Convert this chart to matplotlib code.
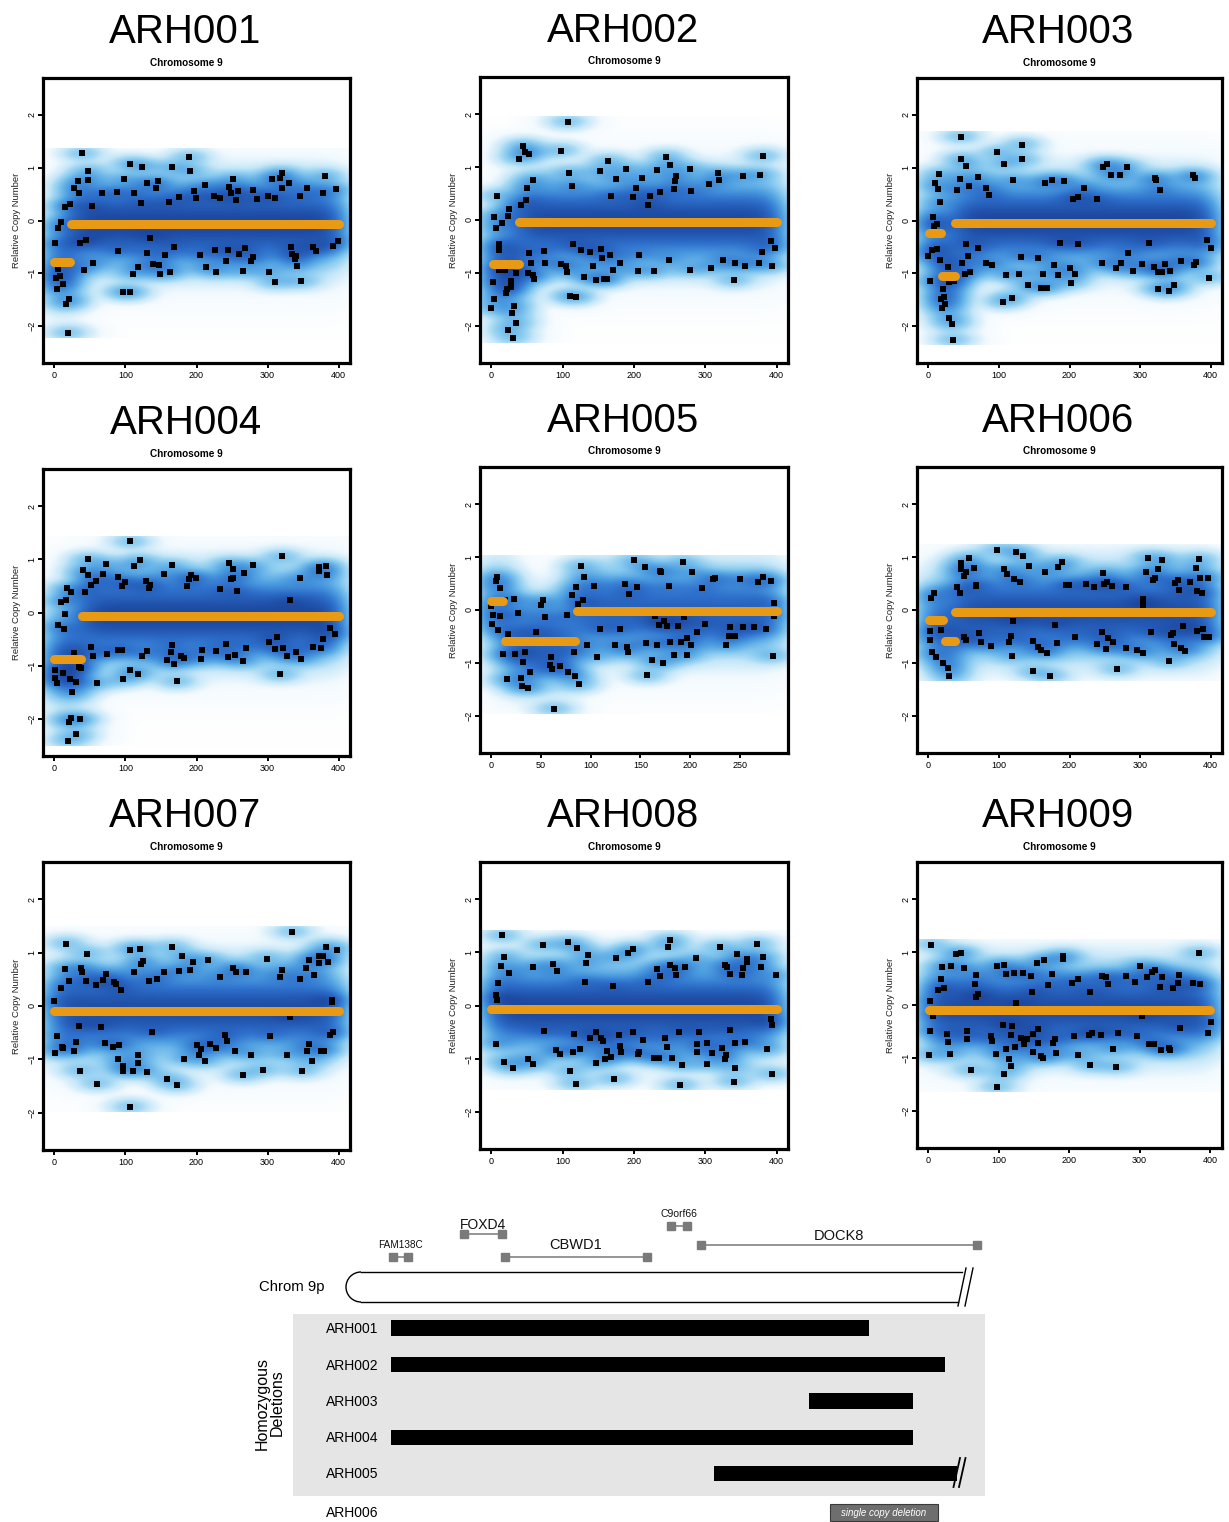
import math
import numpy as np
import matplotlib
matplotlib.use("Agg")
import matplotlib.pyplot as plt
from matplotlib.colors import LinearSegmentedColormap
from matplotlib.patches import Rectangle, Arc

plt.rcParams['font.family'] = ['Liberation Sans', 'DejaVu Sans']

# ---------------------------------------------------------------- data
# plotted (low-density) probes: (probe position, relative copy number)
arh001_points = [(1,-0.43),(2,-1.09),(4,-1.29),(5,-0.15),(5,-0.91),(8,-1.06),(10,-0.02),(12,-1.20),(15,0.25),(17,-1.58),
    (19,-2.13),(21,-1.49),(22,0.32),(27,0.62),(33,0.74),(34,0.52),(36,-0.43),(39,1.27),(41,-0.93),(45,-0.36),(47,0.94),
    (48,0.77),(53,0.27),(55,-0.81),(67,0.52),(88,0.54),(90,-0.57),(98,0.78),(97,-1.36),(106,-1.36),(107,1.08),(110,-1.01),
    (112,0.53),(118,-0.88),(122,0.33),(124,1.02),(130,0.71),(131,-0.62),(135,-0.33),(139,-0.83),(143,0.62),(146,0.74),
    (147,-0.85),(148,-1.01),(155,-0.66),(161,0.35),(163,-0.97),(165,1.01),(168,-0.50),(175,0.45),(190,1.20),(191,0.94),
    (196,0.56),(199,0.42),(205,-0.66),(212,0.67),(213,-0.89),(225,0.47),(226,-0.56),(228,-0.97),(233,0.43),(241,-0.76),
    (245,-0.56),(246,0.64),(248,0.52),(252,0.79),(255,0.38),(258,0.55),(260,-0.63),(266,-0.96),(268,-0.52),(277,-0.76),
    (279,-0.69),(279,0.58),(285,0.41),(301,0.47),(302,-0.97),(306,0.78),(310,0.43),(311,-1.17),(317,0.81),(320,0.62),
    (320,0.90),(330,0.71),(333,-0.50),(335,-0.63),(338,-0.72),(340,-0.68),(342,-0.87),(345,0.46),(347,-1.15),(355,0.62),
    (364,-0.50),(368,-0.57),(378,0.52),(381,0.84),(392,-0.49),(396,0.59),(399,-0.39)]
arh001_seg_start = [0, 24]
arh001_seg_end = [22, 400]
arh001_seg_mean = [-0.79, -0.07]

arh002_points = [(0,-1.67),(2,-1.18),(3,-1.5),(4,0.06),(6,-0.16),(8,0.45),(10,-0.56),(11,-0.45),(11,-0.95),(15,-0.06),
    (19,-0.95),(20,-1.38),(22,-1.3),(23,-2.07),(23,0.07),(25,0.21),(27,-1.16),(28,-1.26),(29,-1.76),(30,-2.23),(32,-1.62),
    (34,-1.0),(35,-1.94),(38,1.16),(41,0.28),(45,1.4),(47,1.29),(49,0.38),(50,0.61),(52,-1.0),(53,1.24),(53,-0.62),
    (55,-0.81),(58,0.76),(58,-1.04),(60,-1.11),(74,-0.59),(75,-0.81),(97,1.31),(97,-0.83),(105,-0.86),(106,-0.98),
    (107,1.85),(109,0.88),(110,-1.44),(113,0.64),(115,-0.46),(118,-1.46),(126,-0.56),(130,-1.07),(138,-0.61),(142,-0.87),
    (146,-1.13),(153,0.92),(154,-0.54),(155,-0.71),(158,-1.12),(162,-1.12),(164,1.11),(167,-0.66),(168,0.45),(171,-0.95),
    (175,0.78),(181,-0.81),(189,0.96),(198,0.44),(203,0.61),(206,-0.97),(207,-0.66),(211,0.79),(220,0.28),(223,0.45),
    (228,-0.97),(232,0.94),(237,0.52),(245,1.19),(249,-0.75),(250,1.04),(256,0.59),(258,0.74),(259,0.83),(278,0.96),
    (278,-0.94),(280,0.54),(305,0.68),(308,-0.9),(318,0.88),(319,0.76),(325,-0.75),(340,-1.14),(341,-0.82),(353,0.83),
    (355,-0.87),(376,-0.82),(377,0.85),(379,-0.61),(381,1.2),(392,-0.4),(394,-0.87),(398,-0.53)]
arh002_seg_start = [2, 39]
arh002_seg_end = [38, 400]
arh002_seg_mean = [-0.84, -0.04]

arh003_points = [(0,-0.67),(2,-1.15),(5,-0.55),(6,0.06),(9,0.71),(8,-0.11),(12,-0.07),(13,-0.54),(14,0.6),(15,0.88),
    (16,-0.74),(17,0.35),(18,-1.48),(20,-1.66),(21,-1.29),(22,-1.44),(24,-1.59),(28,-0.88),(30,-1.17),(30,-1.85),
    (33,-1.97),(35,-2.27),(36,-1.14),(40,0.57),(45,0.79),(46,1.59),(47,1.17),(48,-0.8),(53,1.04),(52,-1.01),(54,-0.44),
    (56,-0.67),(58,0.66),(59,-0.98),(71,-0.53),(71,0.82),(82,0.62),(82,-0.81),(86,0.48),(90,-0.85),(98,1.29),(107,1.07),
    (106,-1.55),(110,-1.03),(118,-1.46),(120,0.76),(128,-1.01),(131,-0.69),(133,1.44),(133,1.16),(141,-1.23),(155,-0.71),
    (159,-1.27),(163,-1.01),(165,0.71),(168,-1.27),(175,0.76),(178,-0.85),(184,-1.04),(187,-0.43),(192,0.75),(200,-0.9),
    (202,-1.18),(205,0.41),(208,-1.01),(212,-0.45),(212,0.45),(221,0.62),(239,0.4),(246,-0.81),(248,1.02),(253,1.07),
    (259,0.87),(266,-0.9),(271,0.87),(273,-0.8),(281,1.02),(283,-0.61),(290,-0.96),(303,-0.82),(313,-0.43),(320,-0.89),
    (321,0.8),(322,0.76),(325,-0.97),(326,-1.29),(328,0.57),(331,-0.97),(335,-0.82),(341,-1.34),(343,-0.96),(348,-1.23),
    (358,-0.76),(375,0.86),(377,-0.84),(378,0.8),(379,-0.78),(395,-0.37),(397,-1.08),(400,-0.52)]
arh003_seg_start = [1, 19, 38]
arh003_seg_end = [18, 38, 400]
arh003_seg_mean = [-0.23, -1.05, -0.04]

arh004_points = [(1,-1.08),(1,-1.24),(4,-1.32),(5,-0.23),(9,0.2),(12,-1.13),(13,-0.31),(15,-0.03),(16,0.24),(18,0.47),
    (19,-2.41),(21,-2.06),(22,-1.26),(23,-1.98),(24,0.38),(25,-1.5),(28,-0.77),(30,-1.31),(31,-2.29),(35,-1.02),
    (36,-2.01),(37,-1.05),(40,0.8),(43,0.38),(47,1.01),(48,0.7),(51,0.51),(52,-0.65),(55,-0.82),(58,0.59),(60,-1.33),
    (69,0.72),(72,0.91),(74,-0.78),(89,0.66),(89,-0.7),(95,-0.7),(95,0.5),(97,-1.26),(99,0.57),(106,-1.09),(107,1.35),
    (112,0.88),(118,-1.15),(120,0.99),(123,-0.82),(129,0.6),(131,-0.73),(133,0.47),(134,0.52),(154,0.72),(159,-0.9),
    (164,-0.75),(165,-0.62),(165,0.89),(168,-0.97),(172,-1.29),(178,-0.82),(182,-0.85),(186,0.5),(190,0.63),(192,0.7),
    (199,0.65),(206,-0.88),(208,-0.7),(228,-0.72),(233,0.45),(242,-0.6),(245,-0.84),(246,0.93),(248,0.63),(251,0.82),
    (252,0.65),(254,-0.8),(257,0.4),(266,-0.92),(267,0.75),(269,-0.66),(280,0.89),(302,-0.55),(310,-0.69),(313,-0.47),
    (318,-1.16),(320,1.06),(322,-0.66),(328,-0.82),(331,0.23),(340,-0.74),(345,0.64),(347,-0.87),(364,-0.64),(372,0.78),
    (373,0.86),(375,-0.67),(378,-0.5),(382,0.88),(383,0.71),(388,-0.3),(395,-0.41)]
arh004_seg_start = [0, 39]
arh004_seg_end = [37, 400]
arh004_seg_mean = [-0.87, -0.06]

arh005_points = [(0,0.08),(1,-0.26),(2,-0.09),(5,0.54),(6,0.63),(7,-0.37),(9,0.42),(9,-0.11),(12,-0.84),(14,0.18),
    (16,-1.31),(17,-0.46),(23,0.21),(24,-0.84),(27,-0.06),(30,-1.29),(31,-1.44),(32,-0.98),(34,-0.8),(37,-1.47),
    (39,-1.18),(45,-0.42),(50,0.09),(52,0.18),(54,-0.14),(59,-1.04),(60,-0.88),(61,-1.12),(63,-1.86),(69,-1.05),
    (76,-0.1),(77,-1.18),(81,0.29),(83,-0.79),(84,-1.25),(85,0.43),(87,0.11),(88,-1.4),(90,0.83),(92,0.18),(93,0.62),
    (96,-0.67),(103,0.45),(106,-0.88),(109,-0.36),(124,-0.67),(129,-0.35),(134,0.5),(136,-0.7),(137,-0.8),(138,0.31),
    (144,0.94),(147,0.44),(155,0.82),(156,-0.62),(157,-1.23),(162,-0.94),(165,-0.12),(167,-0.67),(169,-0.28),(170,0.74),
    (171,0.71),(173,-1.0),(174,-0.21),(177,-0.3),(179,0.45),(180,-0.61),(184,-0.85),(188,-0.3),(191,-0.61),(193,0.91),
    (194,-0.13),(197,-0.85),(197,-0.52),(201,-0.67),(202,0.72),(207,-0.42),(212,0.41),(215,-0.26),(223,0.58),(225,0.6),
    (236,-0.67),(239,-0.5),(240,-0.33),(245,-0.49),(250,0.59),(253,-0.33),(264,-0.33),(268,0.52),(273,0.62),(276,-0.36),
    (281,0.55),(283,-0.86),(284,-0.11),(284,0.14)]
arh005_seg_start = [0, 14, 86]
arh005_seg_end = [12, 84, 287]
arh005_seg_mean = [0.17, -0.59, -0.01]

arh006_points = [(2,-0.56),(3,-0.4),(4,0.23),(5,-0.8),(8,0.33),(11,-0.88),(18,-0.37),(21,-1.01),(28,-1.1),(30,-1.24),
    (40,0.44),(45,0.33),(46,0.77),(47,0.88),(50,0.65),(51,-0.51),(54,0.71),(54,-0.57),(58,0.98),(65,0.8),(67,0.48),
    (68,0.45),(72,-0.44),(74,-0.61),(89,-0.68),(98,1.14),(107,0.77),(112,0.68),(115,-0.61),(117,-0.49),(118,-0.87),
    (120,-0.2),(122,0.58),(124,1.1),(130,0.52),(134,1.02),(143,0.83),(148,-0.59),(148,-1.16),(155,-0.69),(159,-0.76),
    (165,0.71),(168,-0.82),(172,-1.24),(180,-0.28),(184,0.82),(182,-0.63),(190,0.91),(195,0.47),(199,0.47),(208,-0.51),
    (223,0.5),(234,0.44),(239,-0.64),(246,-0.42),(248,0.69),(249,0.5),(251,-0.74),(253,0.52),(255,-0.52),(260,0.45),
    (262,-0.61),(267,-1.11),(280,0.44),(280,-0.72),(295,-0.75),(304,0.2),(304,0.1),(304,-0.82),(308,0.71),(311,0.99),
    (316,-0.41),(318,0.57),(321,0.61),(325,0.78),(331,0.95),(341,-0.96),(344,-0.47),(346,-0.44),(348,-0.65),(350,0.51),
    (353,0.57),(355,0.37),(358,-0.72),(361,-0.3),(364,-0.77),(370,0.52),(379,0.8),(380,-0.4),(381,0.36),(384,0.96),
    (385,0.61),(388,0.33),(389,-0.35),(391,-0.51),(396,0.61),(398,-0.51)]
arh006_seg_start = [1, 23, 38]
arh006_seg_end = [21, 38, 400]
arh006_seg_mean = [-0.18, -0.59, -0.04]

arh007_points = [(0,0.09),(1,-0.88),(3,-0.57),(10,0.33),(11,-0.76),(12,-0.79),(15,0.69),(16,1.16),(20,0.47),(28,-0.85),
    (31,-0.67),(35,-0.38),(36,-1.22),(38,0.71),(39,0.63),(45,0.47),(46,0.98),(58,0.4),(60,-1.46),(65,-0.4),(68,0.48),
    (71,-0.7),(73,0.6),(82,-0.76),(84,0.45),(87,0.41),(89,-1.0),(91,-0.73),(94,0.3),(96,-1.22),(97,-1.13),(106,-1.9),
    (107,1.05),(110,-1.22),(112,0.63),(117,-0.91),(118,-1.06),(120,1.07),(122,0.78),(125,0.84),(131,-1.23),(133,0.46),
    (138,-0.49),(144,0.51),(154,0.63),(159,-1.37),(165,1.1),(172,-1.49),(176,0.66),(179,0.93),(182,-1.0),(191,0.67),
    (195,0.83),(201,-0.74),(203,-0.91),(206,-0.81),(212,-1.04),(216,0.86),(219,-0.72),(227,-0.79),(233,0.54),(240,-0.55),
    (243,-0.65),(251,0.72),(254,-0.85),(255,0.64),(265,-1.3),(269,0.64),(276,-0.92),(294,-1.2),(299,0.89),(303,-0.56),
    (317,0.54),(320,0.67),(328,-0.92),(332,-0.2),(335,1.38),(345,0.5),(348,-1.22),(354,0.72),(356,-0.84),(358,-0.72),
    (358,0.86),(363,-1.03),(365,0.58),(373,0.8),(373,0.93),(375,-0.84),(378,0.93),(379,-0.84),(382,1.11),(385,0.83),
    (388,-0.55),(390,0.11),(391,0.08),(392,-0.49),(398,1.05)]
arh007_seg_start = [0]
arh007_seg_end = [400]
arh007_seg_mean = [-0.09]

arh008_points = [(6,-0.72),(7,0.2),(8,0.1),(9,0.42),(14,0.74),(15,1.32),(18,0.92),(18,-1.06),(24,0.61),(30,-1.17),
    (52,-1.0),(58,0.73),(59,-1.1),(72,1.14),(74,-0.48),(87,0.79),(90,-0.83),(92,0.65),(96,-0.91),(107,1.19),(110,-1.23),
    (115,-0.87),(116,-0.53),(118,-1.47),(120,1.09),(124,-0.81),(131,0.45),(133,0.8),(136,0.95),(138,-0.61),(146,-1.09),
    (147,-0.49),(154,-0.61),(156,-0.67),(159,-1.0),(162,-0.85),(168,-0.97),(170,0.37),(172,-1.38),(175,0.9),(179,-0.56),
    (181,-0.77),(182,-0.87),(191,0.99),(198,1.07),(199,-0.5),(206,-0.92),(207,-0.87),(212,-0.64),(220,0.44),(228,-0.99),
    (232,0.68),(235,-0.99),(237,0.55),(244,-0.61),(246,-0.79),(248,1.11),(250,0.77),(251,1.24),(253,-0.98),(257,0.71),
    (259,0.58),(263,-0.49),(267,-1.12),(265,-1.5),(271,0.73),(287,0.89),(288,-0.87),(289,-0.73),(291,-0.5),(302,-1.11),
    (303,-0.71),(309,-0.9),(320,1.11),(323,-0.8),(327,0.77),(328,-1.01),(329,-0.93),(330,0.73),(334,-0.46),(335,0.6),
    (340,-1.43),(341,-1.18),(342,-0.71),(345,0.97),(352,0.58),(353,0.7),(356,-0.68),(359,0.82),(359,0.87),(373,1.16),
    (378,0.73),(381,0.92),(387,-0.81),(392,-0.26),(393,-0.37),(394,-1.29),(399,0.57)]
arh008_seg_start = [0]
arh008_seg_end = [400]
arh008_seg_mean = [-0.06]

arh009_points = [(1,-0.94),(2,0.07),(3,-0.49),(4,1.14),(7,-0.2),(14,0.28),(18,0.49),(20,0.71),(22,0.33),(27,-0.54),
    (28,-0.7),(31,-0.92),(32,0.74),(39,0.96),(46,0.98),(50,0.69),(55,-0.5),(55,-0.64),(60,-1.23),(66,0.39),(68,0.16),
    (68,0.56),(71,0.21),(89,-0.59),(90,-0.68),(96,-0.92),(97,-1.55),(98,0.74),(106,-0.37),(107,-1.31),(108,0.76),
    (110,0.58),(110,-0.83),(115,-1.02),(118,-0.56),(118,-1.16),(119,-0.4),(121,0.61),(123,-0.8),(125,0.03),(131,-0.63),
    (134,0.61),(136,-0.73),(140,-0.64),(146,0.55),(147,0.25),(148,-0.54),(148,-0.89),(155,0.79),(156,-0.45),(156,-0.71),
    (160,-0.97),(163,-1.01),(165,0.85),(170,0.37),(175,0.58),(177,-0.71),(180,-0.64),(182,-0.91),(191,0.93),(191,0.87),
    (204,0.41),(207,-0.59),(212,0.49),(213,-0.95),(228,-0.56),(229,0.25),(230,-1.14),(232,-0.52),(245,-0.56),(247,0.54),
    (253,0.52),(255,0.4),(262,-0.83),(267,-1.17),(269,-0.53),(281,0.54),(294,0.44),(296,-0.59),(301,0.74),(304,-0.2),
    (311,0.52),(314,-0.73),(318,0.63),(320,-0.73),(322,0.66),(329,0.34),(331,-0.85),(332,0.52),(342,-0.82),(343,-0.85),
    (347,0.33),(354,0.42),(356,0.56),(357,-0.43),(376,0.41),(384,0.98),(386,0.39),(397,-0.53),(401,-0.33)]
arh009_seg_start = [1]
arh009_seg_end = [400]
arh009_seg_mean = [-0.09]

sample_names = ["ARH001", "ARH002", "ARH003", "ARH004", "ARH005",
                "ARH006", "ARH007", "ARH008", "ARH009"]
y_ticks = [-2, -1, 0, 1, 2]
y_tick_labels = ["\u22122", "\u22121", "0", "1", "2"]

# chromosome 9p diagram (relative position along 9p, telomere = 0, break = 100)
gene_names = ["FAM138C", "FOXD4", "CBWD1", "C9orf66", "DOCK8"]
gene_start = [7.7, 19.1, 25.8, 52.7, 57.6]
gene_end = [10.1, 25.3, 48.9, 55.4, 102.4]
del_samples = ["ARH001", "ARH002", "ARH003", "ARH004", "ARH005"]
del_start = [7.3, 7.3, 75.2, 7.3, 59.7]
del_end = [84.9, 97.2, 92.0, 92.0, 99.2]
single_sample = "ARH006"
single_start = 78.5
single_end = 96.1
chrom_end = 100.0

samples = {
    "ARH001": (arh001_points, arh001_seg_start, arh001_seg_end, arh001_seg_mean),
    "ARH002": (arh002_points, arh002_seg_start, arh002_seg_end, arh002_seg_mean),
    "ARH003": (arh003_points, arh003_seg_start, arh003_seg_end, arh003_seg_mean),
    "ARH004": (arh004_points, arh004_seg_start, arh004_seg_end, arh004_seg_mean),
    "ARH005": (arh005_points, arh005_seg_start, arh005_seg_end, arh005_seg_mean),
    "ARH006": (arh006_points, arh006_seg_start, arh006_seg_end, arh006_seg_mean),
    "ARH007": (arh007_points, arh007_seg_start, arh007_seg_end, arh007_seg_mean),
    "ARH008": (arh008_points, arh008_seg_start, arh008_seg_end, arh008_seg_mean),
    "ARH009": (arh009_points, arh009_seg_start, arh009_seg_end, arh009_seg_mean),
}

# ---------------------------------------------------------------- layout
W, H, DPI = 1229, 1522, 100
fig = plt.figure(figsize=(W / DPI, H / DPI), dpi=DPI)
fig.patch.set_facecolor("white")

# panel boxes in pixels (left, top, right, bottom)
boxes = [(43, 78, 350, 363), (480, 77, 788, 363), (917, 78, 1222, 363),
         (43, 469, 350, 756), (480, 467, 788, 753), (917, 467, 1222, 753),
         (43, 862, 350, 1150), (480, 862, 788, 1149), (917, 862, 1222, 1148)]

ORANGE = "#E99A14"
blues = LinearSegmentedColormap.from_list(
    "smooth", [(0.0, "#FFFFFF"), (0.24, "#F3FAFE"), (0.44, "#C6E7F8"),
               (0.60, "#86C9EF"), (0.74, "#4E9FE1"), (0.87, "#2D6FCB"),
               (1.0, "#1C479F")])

_erf = np.vectorize(math.erf)


def ncdf(z):
    return 0.5 * (1.0 + _erf(z / math.sqrt(2.0)))


def smooth_density(px, py, s0, s1, sm, bwx, bwy, band_sd=0.38, w=0.75):
    x0 = min(px.min(), min(s0)) - 0.8 * bwx
    x1 = max(px.max(), max(s1)) + 0.8 * bwx
    y0 = py.min() - bwy
    y1 = py.max() + bwy
    gx = np.linspace(x0, x1, 320)
    gy = np.linspace(y0, y1, 320)
    kx = np.exp(-0.5 * ((gx[:, None] - px[None, :]) / bwx) ** 2) / (math.sqrt(2 * math.pi) * bwx)
    ky = np.exp(-0.5 * ((gy[:, None] - py[None, :]) / bwy) ** 2) / (math.sqrt(2 * math.pi) * bwy)
    dens = ky @ kx.T
    sd = math.hypot(band_sd, bwy)
    for a, b, m in zip(s0, s1, sm):
        sx = ncdf((gx - a) / bwx) - ncdf((gx - b) / bwx)
        sy = np.exp(-0.5 * ((gy - m) / sd) ** 2) / (math.sqrt(2 * math.pi) * sd)
        dens += w * np.outer(sy, sx)
    t = dens ** 0.25
    return t / t.max(), (x0, x1, y0, y1)


for name, (l, t, r, b) in zip(sample_names, boxes):
    pts, s0, s1, sm = samples[name]
    arr = np.array(pts, dtype=float)
    px, py = arr[:, 0], arr[:, 1]
    xmax = max(px.max(), max(s1))
    ax = fig.add_axes([l / W, 1 - b / H, (r - l) / W, (b - t) / H])
    img, ext = smooth_density(px, py, s0, s1, sm, bwx=0.045 * xmax, bwy=0.095)
    ax.imshow(img, extent=ext, origin="lower", aspect="auto", cmap=blues,
              vmin=0, vmax=1, interpolation="bilinear", zorder=0)
    ax.scatter(px, py, s=17, marker="s", c="black", linewidths=0, zorder=2)
    for a, e, m in zip(s0, s1, sm):
        ax.plot([a, e], [m, m], color=ORANGE, lw=6.5, solid_capstyle="round", zorder=3)
    ax.set_xlim(-0.04 * xmax, 1.04 * xmax)
    ax.set_ylim(-2.7, 2.7)
    step = 50 if xmax < 300 else 100
    ax.set_xticks(np.arange(0, xmax + 1, step))
    ax.set_yticks(y_ticks)
    ax.set_yticklabels(y_tick_labels, rotation=90, va="center")
    ax.tick_params(length=3.6, width=1.4, labelsize=6.5, color="black")
    ax.tick_params(axis="y", pad=1.0)
    ax.tick_params(axis="x", pad=2.0)
    for sp in ax.spines.values():
        sp.set_linewidth(2.3)
    cx = (l + r) / 2
    fig.text((cx - 11) / W, 1 - (t - 35) / H, name, fontsize=29,
             ha="center", va="baseline")
    fig.text((cx - 10) / W, 1 - (t - 12.5) / H, "Chromosome 9", fontsize=7.2,
             fontweight="bold", ha="center", va="baseline")
    fig.text((l - 26.5) / W, 1 - ((t + b) / 2) / H, "Relative Copy Number",
             fontsize=6.8, rotation=90, ha="center", va="center", color="#222222")

# ---------------------------------------------------------------- 9p diagram
U0, UPX = 346.0, 6.16          # pixel x of position 0, pixels per unit


def px2u(xpx):
    return (xpx - U0) / UPX


axd = fig.add_axes([0, 0, 1, 1], zorder=-1)
axd.set_xlim(px2u(0), px2u(W))
axd.set_ylim(H, 0)
axd.axis("off")
axd.patch.set_alpha(0)

# grey homozygous block
axd.add_patch(Rectangle((px2u(292.7), 1314), px2u(985) - px2u(292.7), 182,
                        facecolor="#E5E5E5", edgecolor="none", zorder=0))

# chromosome outline
r_u = 15 / UPX
axd.add_patch(Arc((r_u, 1287), 2 * r_u, 30, theta1=90, theta2=270, lw=1.0,
                  color="black", zorder=2))
axd.plot([r_u, chrom_end], [1272, 1272], color="black", lw=1.0, zorder=2)
axd.plot([r_u, chrom_end - 0.6], [1302, 1302], color="black", lw=1.0, zorder=2)
for off in (0, 7):
    axd.plot([px2u(958 + off), px2u(966 + off)], [1306, 1268], color="black", lw=1.0, zorder=2)
axd.text(px2u(259), 1291.3, "Chrom 9p", fontsize=10.7, ha="left", va="baseline")

# genes
gene_rows = [1256.7, 1234, 1256.7, 1225.7, 1245]
gene_lab_rows = [1247.6, 1229, 1249, 1216.7, 1240]
gene_fs = [7.2, 10, 10.5, 7.5, 10.5]
for g, s, e, yr, yl, fs in zip(gene_names, gene_start, gene_end, gene_rows, gene_lab_rows, gene_fs):
    axd.plot([s, e], [yr, yr], color="#8C8C8C", lw=1.3, zorder=2)
    axd.plot([s, e], [yr, yr], ls="none", marker="s", ms=6.3, color="#7A7A7A", zorder=3)
    axd.text((s + e) / 2, yl, g, fontsize=fs, ha="center", va="baseline", color="#111111")

# deletions
del_rows = [1328, 1364.5, 1401, 1437.5, 1473.5]
for nm, s, e, yr in zip(del_samples, del_start, del_end, del_rows):
    axd.barh(yr, e - s, left=s, height=15.5, color="black", zorder=2)
    axd.text(px2u(326), yr + 5, nm, fontsize=10, ha="left", va="baseline")
for off in (0, 5.5):
    axd.plot([px2u(953.5 + off), px2u(960 + off)], [1487, 1458], color="black", lw=1.3, zorder=3)

axd.text(px2u(270), 1403, "Homozygous\nDeletions", fontsize=11.5, rotation=90,
         ha="center", va="center", multialignment="center", linespacing=1.0)

# single copy deletion
axd.text(px2u(326), 1517, single_sample, fontsize=10, ha="left", va="baseline")
axd.add_patch(Rectangle((single_start, 1504), single_end - single_start, 16.7,
                        facecolor="#6E6E6E", edgecolor="#3A3A3A", lw=0.8, zorder=2))
axd.text((single_start + single_end) / 2, 1512.5, "single copy deletion", fontsize=7,
         style="italic", color="white", ha="center", va="center", zorder=3)

fig.savefig("out.png", dpi=DPI, facecolor="white")
